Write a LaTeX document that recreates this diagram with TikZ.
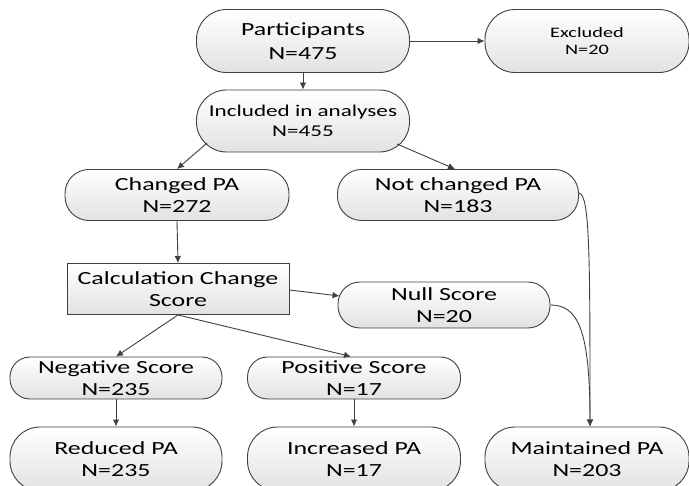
\documentclass[tikz,border=0pt]{standalone}
\usepackage{fontspec}
\setmainfont{Carlito}[FakeStretch=1.4]
\usetikzlibrary{arrows.meta}
\definecolor{lc}{RGB}{64,64,64}
\definecolor{fillb}{RGB}{226,226,226}
\begin{document}
\begin{tikzpicture}[x=1pt,y=-1pt,
  box/.style={draw=lc, line width=0.9pt, top color=white, bottom color=fillb,
    align=center, inner sep=0pt, text=black},
  fA/.style={font=\fontsize{18.5}{24}\selectfont},
  fB/.style={font=\fontsize{16.5}{20}\selectfont},
  fC/.style={font=\fontsize{18.5}{21.7}\selectfont},
  fD/.style={font=\fontsize{14.5}{17}\selectfont},
  conn/.style={draw=lc, line width=0.9pt, -{Latex[length=7pt,width=6.5pt]}}
]
\clip (0,0) rectangle (689,486);
\fill[white] (0,0) rectangle (689,486);

\node[box, fA, rounded corners=30pt, minimum width=213pt, minimum height=63pt] (part) at (303,41) {Participants\\N=475};
\node[box, fD, rounded corners=30pt, minimum width=204pt, minimum height=63pt] (excl) at (587,41) {Excluded\\N=20};
\node[box, fB, rounded corners=30pt, minimum width=213pt, minimum height=62pt] (incl) at (303,121) {Included in analyses\\N=455};
\node[box, fC, rounded corners=24pt, minimum width=224pt, minimum height=51pt] (chg) at (177,195) {Changed PA\\N=272};
\node[box, fC, rounded corners=24pt, minimum width=241pt, minimum height=51pt] (nchg) at (458,195) {Not changed PA\\N=183};
\node[box, fC, minimum width=222pt, minimum height=51pt] (calc) at (178,289) {Calculation Change\\Score};
\node[box, fC, rounded corners=22pt, minimum width=212pt, minimum height=46pt] (null) at (444,305) {Null Score\\N=20};
\node[box, fC, rounded corners=20pt, minimum width=212pt, minimum height=42pt] (neg) at (116,378) {Negative Score\\N=235};
\node[box, fC, rounded corners=20pt, minimum width=213pt, minimum height=42pt] (pos) at (354,378) {Positive Score\\N=17};
\node[box, fC, rounded corners=30pt, minimum width=212pt, minimum height=64pt] (red) at (116,459) {Reduced PA\\N=235};
\node[box, fC, rounded corners=30pt, minimum width=213pt, minimum height=64pt] (inc) at (354,459) {Increased PA\\N=17};
\node[box, fC, rounded corners=30pt, minimum width=204pt, minimum height=64pt] (mnt) at (587,459) {Maintained PA\\N=203};

\coordinate (mtop) at ([xshift=3pt]mnt.north);

\draw[conn] (part.south) -- (incl.north);
\draw[conn] (part.east) -- (excl.west);
\draw[conn] ([shift={(-96,22)}]incl.center) -- (chg.north);
\draw[conn] ([shift={(94,23)}]incl.center) -- ([xshift=-3pt]nchg.north);
\draw[conn] (chg.south) -- (calc.north);
\draw[conn] ([shift={(0,1)}]calc.east) -- ([shift={(2,-9)}]null.west);
\draw[conn] (calc.south) -- (neg.north);
\draw[conn] (calc.south) -- ([xshift=-3pt]pos.north);
\draw[conn] (neg.south) -- (red.north);
\draw[conn] (pos.south) -- (inc.north);
\draw[conn] ([yshift=2pt]nchg.east) .. controls (590,194) and (590,260) .. (mtop);
\draw[conn] (null.east) .. controls (578,305) and (590,330) .. (mtop);
\end{tikzpicture}
\end{document}
